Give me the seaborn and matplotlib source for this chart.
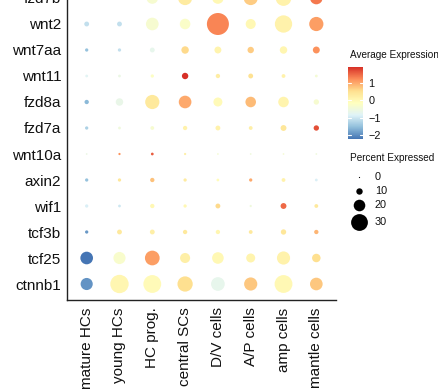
import numpy as np
import pandas as pd
import matplotlib
matplotlib.use("Agg")
import matplotlib.pyplot as plt
from matplotlib.colors import LinearSegmentedColormap, Normalize
from matplotlib.cm import ScalarMappable
import seaborn as sns

# ---------------- data ----------------
cell_types = ["mature HCs", "young HCs", "HC prog.", "central SCs",
              "D/V cells", "A/P cells", "amp cells", "mantle cells"]
# bottom -> top
genes = ["ctnnb1", "tcf25", "tcf3b", "wif1", "axin2", "wnt10a",
         "fzd7a", "fzd8a", "wnt11", "wnt7aa", "wnt2", "fzd7b"]

avg_exp = {
    "ctnnb1": [-1.95, 0.05, -0.05, 0.55, -0.7, 0.75, 0.0, 0.75],
    "tcf25":  [-2.24, -0.3, 1.1, 0.2, 0.0, 0.1, 0.15, 0.55],
    "tcf3b":  [-1.9, 0.35, 0.2, 0.35, 0.05, 0.35, 0.4, 0.9],
    "wif1":   [-0.9, -1.0, 0.0, 0.0, 0.6, -0.5, 1.5, 0.35],
    "axin2":  [-1.5, 0.4, 0.8, 0.3, -0.1, 1.0, 0.15, -0.9],
    "wnt10a": [-0.6, 1.2, 1.6, 0.2, -0.4, -0.5, -0.4, -0.5],
    "fzd7a":  [-1.3, -0.5, -0.35, 0.15, 0.15, 0.2, 0.4, 1.7],
    "fzd8a":  [-1.6, -0.65, 0.35, 1.0, -0.05, 0.85, 0.1, -0.35],
    "wnt11":  [-0.8, -0.6, -0.2, 1.94, 0.25, 0.5, 0.15, -0.4],
    "wnt7aa": [-1.5, -1.1, -0.7, 0.6, 0.1, 0.7, 0.05, 1.2],
    "wnt2":   [-1.1, -1.1, -0.35, -0.25, 1.3, 0.0, 0.15, 1.1],
    "fzd7b":  [-1.0, -1.0, -0.35, 0.3, 0.0, 0.7, 0.15, 1.4],
}
pct_exp = {
    "ctnnb1": [21, 33, 32, 27, 24, 23, 32, 22],
    "tcf25":  [22, 21, 26, 17, 20, 15, 23, 14],
    "tcf3b":  [4, 7, 7, 6, 6, 5, 8, 6],
    "wif1":   [4, 3, 6, 4, 7, 2, 9, 5],
    "axin2":  [4, 4, 6, 4, 3, 4, 5, 3],
    "wnt10a": [1, 2, 3, 2, 1, 1, 1, 1],
    "fzd7a":  [4, 3, 5, 6, 7, 5, 9, 8],
    "fzd8a":  [6, 12, 25, 22, 15, 18, 18, 8],
    "wnt11":  [3, 3, 4, 10, 6, 7, 5, 3],
    "wnt7aa": [4, 4, 7, 12, 11, 10, 12, 11],
    "wnt2":   [7, 7, 22, 18, 40, 17, 31, 25],
    "fzd7b":  [3, 3, 20, 25, 20, 25, 28, 22],
}
size_breaks = [0, 10, 20, 30]
color_ticks = [-2, -1, 0, 1]

rows = []
for g in genes:
    for ct, a, p in zip(cell_types, avg_exp[g], pct_exp[g]):
        rows.append({"gene": g, "cell": ct, "avg": a, "pct": p})
df = pd.DataFrame(rows)

# ---------------- scales ----------------
DPI = 100
def area_pt2(p):
    d_px = 1.2 + 0.52 * p          # radius-linear (ggplot scale_radius)
    d_pt = d_px * 72.0 / DPI
    return d_pt ** 2

size_map = {p: area_pt2(p) for p in sorted(df["pct"].unique())}
cmap = LinearSegmentedColormap.from_list(
    "rdylbu", ["#4575B4", "#91BFDB", "#E0F3F8", "#FFFFBF",
               "#FEE090", "#FC8D59", "#D73027"])
vmin, vmax = df["avg"].min(), df["avg"].max()
norm = Normalize(vmin, vmax)

# ---------------- figure ----------------
W, H = 439, 392
fig = plt.figure(figsize=(W / DPI, H / DPI), dpi=DPI)
sns.set_style("white")
plt.rcParams["font.family"] = ["Liberation Sans", "DejaVu Sans"]

ax_l, ax_r, ax_t, ax_b = 67, 336, -17.6, 299.6
ax = fig.add_axes([ax_l / W, 1 - ax_b / H, (ax_r - ax_l) / W, (ax_b - ax_t) / H])

sns.scatterplot(data=df, x="cell", y="gene", hue="avg", size="pct",
                palette=cmap, hue_norm=norm, sizes=size_map,
                linewidth=0, legend=False, ax=ax, clip_on=True)

ax.set_xlim(-0.6, len(cell_types) - 0.4)
ax.set_ylim(-0.6, len(genes) - 0.4)
ax.set_xlabel("")
ax.set_ylabel("")
for s in ["top", "right"]:
    ax.spines[s].set_visible(False)
for s in ["left", "bottom"]:
    ax.spines[s].set_color("#222222")
    ax.spines[s].set_linewidth(1.0)
ax.tick_params(axis="both", length=2.6, width=0.8, color="#222222",
               labelsize=11, labelcolor="#111111", pad=1.5, direction="out")
ax.tick_params(axis="x", pad=3)
ax.set_xticks(range(len(cell_types)))
ax.set_xticklabels(cell_types, rotation=90, ha="center", va="top")
ax.set_yticks(range(len(genes)))
ax.set_yticklabels(genes)
ax.grid(False)

# ---------------- colour legend ----------------
fig.text(350 / W, 1 - 55 / H, "Average Expression", fontsize=7.2,
         va="center", ha="left", color="#111111")
cax = fig.add_axes([348 / W, 1 - 139 / H, 15 / W, 72 / H])
cb = fig.colorbar(ScalarMappable(norm=norm, cmap=cmap), cax=cax)
cb.outline.set_visible(False)
cb.set_ticks(color_ticks)
cb.set_ticklabels([str(t).replace("-", "\u2212") for t in color_ticks])
cax.tick_params(length=0, labelsize=7.8, pad=4, labelcolor="#111111")
for t in color_ticks:
    cax.plot([0, 0.2], [t, t], color="white", lw=0.8, transform=cax.get_yaxis_transform())
    cax.plot([0.8, 1.0], [t, t], color="white", lw=0.8, transform=cax.get_yaxis_transform())

# ---------------- size legend ----------------
fig.text(350 / W, 1 - 158 / H, "Percent Expressed", fontsize=7.2,
         va="center", ha="left", color="#111111")
lax = fig.add_axes([0, 0, 1, 1], facecolor="none")
lax.set_xlim(0, W)
lax.set_ylim(H, 0)
lax.axis("off")
leg_y = [177, 191, 205, 222]
for b, yy in zip(size_breaks, leg_y):
    lax.scatter([359], [yy], s=area_pt2(b), color="black", linewidth=0)
    lax.text(375, yy, str(b), fontsize=7.8, va="center", ha="left", color="#111111")

fig.savefig("out.png", dpi=DPI)
